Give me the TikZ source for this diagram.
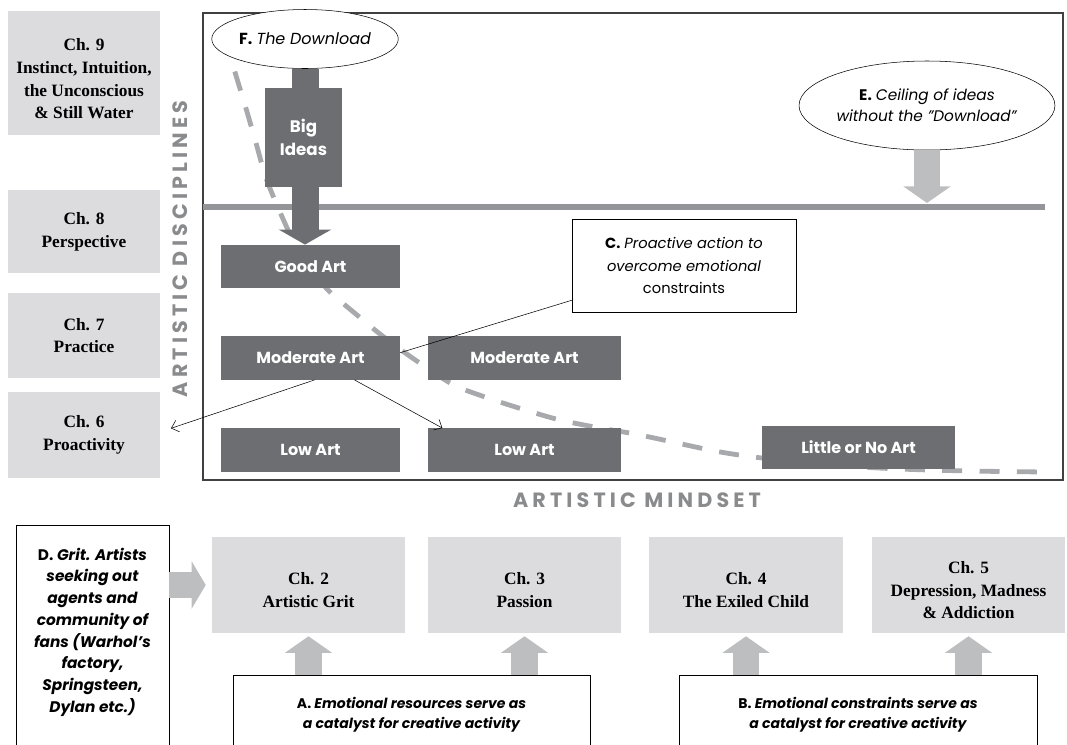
\documentclass[tikz,border=0pt]{standalone}
\usepackage{fontspec}
\setmainfont{Liberation Serif}
\setsansfont{Poppins}
\usepackage{tikz}
\usetikzlibrary{arrows.meta, shapes.geometric, positioning}

\definecolor{chgray}{HTML}{DCDCDE}
\definecolor{artgray}{HTML}{6D6E71}
\definecolor{linegray}{HTML}{939598}
\definecolor{dashgray}{HTML}{A7A9AC}
\definecolor{arrowgray}{HTML}{BCBEC0}
\definecolor{axisgray}{HTML}{8A8B8D}
\definecolor{framegray}{HTML}{404040}

\begin{document}
\begin{tikzpicture}[x=0.75pt, y=-0.75pt, >=stealth]
\tikzstyle{chap} = [fill=chgray, align=center, inner sep=0pt, font=\fontsize{13}{17}\selectfont\bfseries]
\tikzstyle{side} = [chap, minimum width=114pt]
\tikzstyle{mind} = [chap, minimum width=144.75pt, minimum height=72pt, text height=34pt]
\tikzstyle{art} = [fill=artgray, text=white, inner sep=0pt, minimum height=32.5pt, font=\sffamily\bfseries\fontsize{12}{14}\selectfont]
\tikzstyle{oval} = [draw, ellipse, fill=white, inner sep=0pt, align=center, font=\sffamily\fontsize{11.5}{16}\selectfont]
\tikzstyle{note} = [draw, fill=white, align=center, font=\sffamily\fontsize{11}{17}\selectfont]
\tikzstyle{openbox} = [draw, anchor=north, minimum height=200pt]
\tikzstyle{opentext} = [inner sep=0pt, align=center, font=\sffamily\bfseries\itshape\fontsize{10.5}{15}\selectfont]
\tikzstyle{fat} = [draw=arrowgray, line width=20pt, -{Triangle[length=12.5pt, width=35pt]}]
\tikzstyle{pointer} = [draw, thin, -{Straight Barb[length=5pt, width=9pt]}]
\tikzstyle{axis} = [text=axisgray, inner sep=0pt, font=\sffamily\bfseries\fontsize{15.5}{15.5}\selectfont\addfontfeature{LetterSpace=20}]

\useasboundingbox (0,0) rectangle (1067,744);
\clip (0,0) rectangle (1067,744);

% Disciplines down the left
\node [side, minimum height=93pt, text height=69pt] (ch9) at (84,73) {Ch. 9\\Instinct, Intuition,\\the Unconscious\\\& Still Water};
\node [side, minimum height=62.25pt] (ch8) at (84,231.5) {Ch. 8\\Perspective};
\node [side, minimum height=63.75pt] (ch7) at (84,335.5) {Ch. 7\\Practice};
\node [side, minimum height=64.5pt] (ch6) at (84,435) {Ch. 6\\Proactivity};
\node [axis, rotate=90] (disc) at (180,249) {ARTISTIC DISCIPLINES};

% Panel, ceiling and the falling curve
\draw [framegray, line width=0.9pt] (203,13) rectangle (1063,480);
\draw [linegray, line width=5pt] (203,207) -- (1045,207);
\coordinate (ceilE) at (927,203);
\draw [dashgray, line width=3.6pt, dash pattern=on 15pt off 13pt] plot [smooth, tension=0.5] coordinates {(227,35) (233,65) (245,105) (256,143) (266,178) (280,212) (293,240) (310,268) (329,291) (357,315) (380,334) (411,357) (452,384) (485,397) (522,409) (560,420) (600,428) (640,435) (715,451) (762,458) (830,465) (900,469) (970,471) (1045,472)};

% Levels of art
\node [art, minimum width=134.25pt] (good) at (310.5,266.5) {Good Art};
\node [art, minimum width=134.25pt] (modL) at (310.5,358) {Moderate Art};
\node [art, minimum width=144.75pt] (modR) at (524.5,358) {Moderate Art};
\node [art, minimum width=134.25pt] (lowL) at (310.5,450) {Low Art};
\node [art, minimum width=144.75pt] (lowM) at (524.5,450) {Low Art};
\node [art, minimum width=144.75pt] (little) at (858.5,447.5) {Little or No Art};

% F and E
\node [oval, minimum width=136.5pt, minimum height=44.25pt, font=\sffamily\fontsize{12}{16}\selectfont] (dl) at (305,39) {\textbf{F.} \textit{The Download}};
\draw [artgray, line width=20.25pt, -{Triangle[length=11.25pt, width=39pt]}] (dl.south) -- (dl.south |- good.north);
\node [art, minimum width=57.75pt, minimum height=74.25pt, align=center, font=\sffamily\bfseries\fontsize{12.5}{17}\selectfont] (big) at (303.5,137.5) {Big\\Ideas};
\node [oval, minimum width=168pt, minimum height=66.75pt] (ceiling) at (927,105.5) {\textbf{E.} \textit{Ceiling of ideas}\\\textit{without the "Download"}};
\draw [fat] (ceiling.south) -- (ceilE);

% C and its links
\node [note, minimum width=168pt, minimum height=69.75pt] (proact) at (684,265.5) {\textbf{C.} \textit{Proactive action to}\\\textit{overcome emotional}\\constraints};
\draw [thin] ([yshift=9pt]proact.south west) -- ([yshift=4pt]modL.east);
\draw [pointer] ([xshift=3pt]modL.south) -- ([xshift=8pt, yshift=5pt]ch6.east);
\draw [pointer] ([xshift=33pt]modL.south) -- ([xshift=11pt]lowM.north west);

\node [axis] (mindset) at (637,500) {ARTISTIC MINDSET};

% Mindset row
\node [mind] (ch2) at (308.5,585) {Ch. 2\\Artistic Grit};
\node [mind] (ch3) at (524.5,585) {Ch. 3\\Passion};
\node [mind, minimum width=145.5pt] (ch4) at (746,585) {Ch. 4\\The Exiled Child};
\node [mind, text height=51pt] (ch5) at (968.5,585) {Ch. 5\\Depression, Madness\\\& Addiction};

\node [openbox, minimum width=114.75pt] (gritbox) at (92.5,525) {};
\node [opentext, below=17pt of gritbox.north, font=\sffamily\bfseries\itshape\fontsize{11.5}{16.3}\selectfont] (grit) {\textup{D.} Grit. Artists\\seeking out\\agents and\\community of\\fans (Warhol's\\factory,\\Springsteen,\\Dylan etc.)};
\draw [fat, line width=19.5pt, -{Triangle[length=10.5pt, width=35pt]}] (gritbox.east |- ch2.west) -- ([xshift=-4.5pt]ch2.west);

\node [openbox, minimum width=267.75pt] (resbox) at (411.5,675) {};
\node [opentext, below=16.5pt of resbox.north] (res) {\textup{A.} Emotional resources serve as\\a catalyst for creative activity};
\node [openbox, minimum width=268.5pt] (conbox) at (858,675) {};
\node [opentext, below=16.5pt of conbox.north] (con) {\textup{B.} Emotional constraints serve as\\a catalyst for creative activity};

\draw [fat] (resbox.north -| ch2.south) -- ([yshift=-2.25pt]ch2.south);
\draw [fat] (resbox.north -| ch3.south) -- ([yshift=-2.25pt]ch3.south);
\draw [fat] (conbox.north -| ch4.south) -- ([yshift=-2.25pt]ch4.south);
\draw [fat] (conbox.north -| ch5.south) -- ([yshift=-2.25pt]ch5.south);

\end{tikzpicture}
\end{document}
